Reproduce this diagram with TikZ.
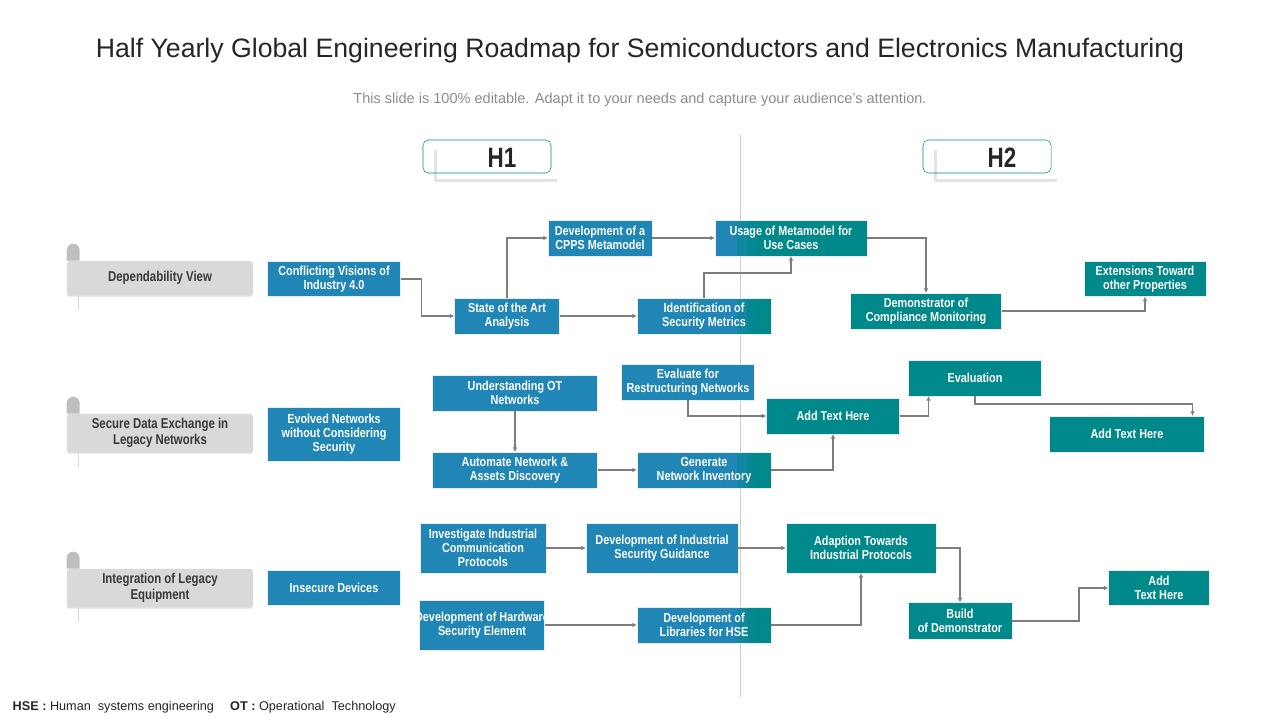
\documentclass[tikz,border=0pt]{standalone}
\usepackage{fontspec}
\setmainfont{Liberation Sans}
\newfontfamily\narrowfont[FakeStretch=0.8]{Liberation Sans}
\newfontfamily\boxfont[FakeStretch=0.83]{Liberation Sans}
\usepackage{tikz}
\usetikzlibrary{arrows.meta, shadows}
\definecolor{roadblue}{RGB}{31,134,181}
\definecolor{roadteal}{RGB}{0,137,138}
\definecolor{tagdark}{RGB}{190,190,190}
\definecolor{taglight}{RGB}{217,217,217}
\definecolor{flowgray}{RGB}{125,125,125}
\tikzset{road box/.style={
        draw=black!8, fill=#1, text=white, align=center,
        font=\boxfont\bfseries\fontsize{9.8}{10.5}\selectfont,
        inner sep=1pt, outer sep=0pt, % arrows start right at the border
    },
    box size/.style 2 args={
        minimum width=#1*0.75pt, minimum height=#2*0.75pt
    },
    split box/.style={
        path picture={
            \fill[roadteal!45!roadblue] ([xshift=-2pt]div |- path picture bounding box.south) rectangle ([xshift=5pt]div |- path picture bounding box.north);
            \fill[roadteal!80!roadblue] ([xshift=5pt]div |- path picture bounding box.south) rectangle ([xshift=12pt]div |- path picture bounding box.north);
            \fill[roadteal] ([xshift=12pt]div |- path picture bounding box.south) rectangle (path picture bounding box.north east);
        }
    },
    view tag/.style={
        fill=taglight, text=black!78, align=center, rounded corners=2pt,
        font=\narrowfont\bfseries\fontsize{10.7}{12}\selectfont,
        minimum width=186*0.75pt, minimum height=34*0.75pt,
        drop shadow={shadow xshift=0pt, shadow yshift=-1.2pt, opacity=0.25},
    },
    half tab/.style={
        font=\narrowfont\bfseries\fontsize{21}{24}\selectfont, text=black!85
    },
    flow/.style={
        draw=flowgray, line width=1.1pt, -{Latex[length=3.5pt,width=3.5pt]}
    },
}

\begin{document}
\begin{tikzpicture}[x=0.75pt, y=-0.75pt]
    \useasboundingbox (0,0) rectangle (1280,720);
    \coordinate (div) at (740,0);

    %% heading
    \node [font=\fontsize{20}{24}\selectfont, text=black!85] (TITLE) at (640,51) {Half Yearly Global Engineering Roadmap for Semiconductors and Electronics Manufacturing};
    \node [font=\fontsize{10.9}{12}\selectfont, text=black!45] (SUB) at (640,100) {This slide is 100\% editable. Adapt it to your needs and capture your audience's attention.};

    %% the half year line and tabs
    \draw [black!20, line width=0.6pt] (div |- 0,135) -- (div |- 0,697);
    \foreach \h/\x in {H1/423, H2/923} {
        \fill [white, drop shadow={shadow xshift=-2.5pt, shadow yshift=-2pt, opacity=0.22}] (\x+14,147) rectangle (\x+137,179);
        \draw [roadteal, rounded corners=4pt] (\x,140) rectangle (\x+128,173);
        \node [half tab] (\h) at (\x+79,158) {\h};
    }

    %% the three views
    \node [view tag] (DV) at (160,278) {Dependability View};
    \node [view tag] (SD) at (160,433) {Secure Data Exchange in\\Legacy Networks};
    \node [view tag] (IL) at (160,588) {Integration of Legacy\\Equipment};
    \foreach \t in {DV, SD, IL} {
        \fill [tagdark] (\t.north west) [rounded corners=5pt] -- ++(0,-17) -- ++(13,0) [sharp corners] -- ++(0,17) -- cycle;
        \draw [black!15] ([xshift=9pt]\t.south west) -- ++(0,15);
    }

    %% dependability view
    \node [road box=roadblue, box size={133}{35}] (CV) at (334,279) {Conflicting Visions of\\Industry 4.0};
    \node [road box=roadblue, box size={105}{36}] (SA) at (507,316) {State of the Art\\Analysis};
    \node [road box=roadblue, box size={104}{36}] (CP) at (600,238) {Development of a\\CPPS Metamodel};
    \node [road box=roadblue, split box, box size={152}{36}] (UM) at (791,238) {Usage of Metamodel for\\Use Cases};
    \node [road box=roadblue, split box, box size={134}{36}] (IS) at (704,316) {Identification of\\Security Metrics};
    \node [road box=roadteal, box size={151}{36}] (DM) at (926,311) {Demonstrator of\\Compliance Monitoring};
    \node [road box=roadteal, box size={122}{35}] (ET) at (1145,279) {Extensions Toward\\other Properties};

    \draw [flow] (CV.east) -- ++(21,0) |- (SA.west);
    \draw [flow] (SA.north) |- (CP.west);
    \draw [flow] (SA) -- (IS);
    \draw [flow] (CP) -- (UM);
    \draw [flow] (IS.north) -- ++(0,-25) -| (UM.south);
    \draw [flow] (UM.east) -| (DM.north);
    \draw [flow] (DM.east) -| (ET.south);

    %% secure data exchange
    \node [road box=roadblue, box size={133}{54}] (EN) at (334,434) {Evolved Networks\\without Considering\\Security};
    \node [road box=roadblue, box size={165}{36}] (UN) at (515,393) {Understanding OT\\Networks};
    \node [road box=roadblue, box size={165}{36}] (AN) at (515,470) {Automate Network \&\\Assets Discovery};
    \node [road box=roadblue, box size={133}{36}] (ER) at (688,382) {Evaluate for\\Restructuring Networks};
    \node [road box=roadblue, split box, box size={134}{36}] (GN) at (704,470) {Generate\\Network Inventory};
    \node [road box=roadteal, box size={133}{36}] (AT) at (833,416) {Add Text Here};
    \node [road box=roadteal, box size={133}{36}] (EV) at (975,378) {Evaluation};
    \node [road box=roadteal, box size={155}{36}] (AX) at (1127,434) {Add Text Here};

    \draw [flow] (UN) -- (AN);
    \draw [flow] (AN) -- (GN);
    \draw [flow] (ER.south) |- (AT.west);
    \draw [flow] (GN.east) -| (AT.south);
    \draw [flow] (AT.east) -| ([xshift=15pt]EV.south west);
    \draw [flow] (EV.south) -- ++(0,8) -| ([xshift=-9pt]AX.north east);

    %% legacy equipment
    \node [road box=roadblue, box size={133}{35}] (ID) at (334,588) {Insecure Devices};
    \node [road box=roadblue, box size={126}{50}] (II) at (483,548) {Investigate Industrial\\Communication\\Protocols};
    \node [road box=roadblue, box size={152}{50}] (DG) at (662,548) {Development of Industrial\\Security Guidance};
    \node [road box=roadteal, box size={150}{50}] (AP) at (861,548) {Adaption Towards\\Industrial Protocols};
    \node [road box=roadblue, box size={125}{50}] (HW) at (482,625) {\makebox[0pt]{Development of Hardware}\\Security Element}; % the first line runs past the box
    \node [road box=roadblue, split box, box size={134}{36}] (LH) at (704,625) {Development of\\Libraries for HSE};
    \node [road box=roadteal, box size={104}{37}] (BD) at (960,621) {Build\\of Demonstrator};
    \node [road box=roadteal, box size={101}{35}] (AY) at (1159,588) {Add\\Text Here};

    \draw [flow] (II) -- (DG);
    \draw [flow] (DG) -- (AP);
    \draw [flow] (AP.east) -| (BD.north);
    \draw [flow] (HW) -- (LH);
    \draw [flow] (LH.east) -| (AP.south);
    \draw [flow] (BD.east) -- ++(67,0) |- (AY.west);

    %% abbreviations
    \node [anchor=west, font=\fontsize{9.5}{11}\selectfont, text=black!85] (NOTE) at (8,707) {\textbf{HSE :} Human\ \ systems engineering\quad\ \textbf{OT :} Operational\ \ Technology};
\end{tikzpicture}
\end{document}
